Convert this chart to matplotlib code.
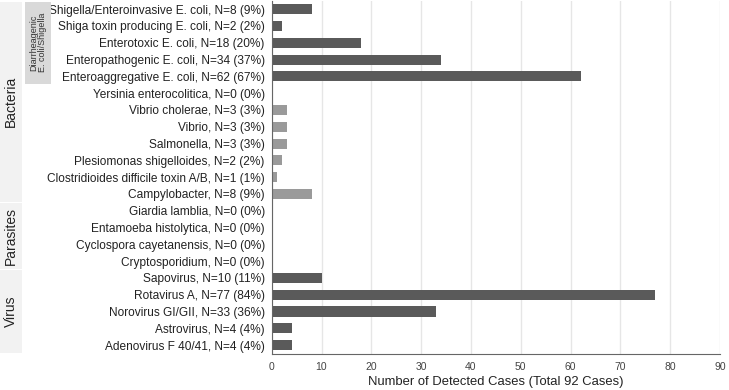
import matplotlib
matplotlib.use("Agg")
import matplotlib.pyplot as plt
from matplotlib.patches import Rectangle
from matplotlib.transforms import blended_transform_factory

plt.rcParams['font.family'] = ['Liberation Sans', 'DejaVu Sans']

# data, top to bottom
labels = [
    "Shigella/Enteroinvasive E. coli, N=8 (9%)",
    "Shiga toxin producing E. coli, N=2 (2%)",
    "Enterotoxic E. coli, N=18 (20%)",
    "Enteropathogenic E. coli, N=34 (37%)",
    "Enteroaggregative E. coli, N=62 (67%)",
    "Yersinia enterocolitica, N=0 (0%)",
    "Vibrio cholerae, N=3 (3%)",
    "Vibrio, N=3 (3%)",
    "Salmonella, N=3 (3%)",
    "Plesiomonas shigelloides, N=2 (2%)",
    "Clostridioides difficile toxin A/B, N=1 (1%)",
    "Campylobacter, N=8 (9%)",
    "Giardia lamblia, N=0 (0%)",
    "Entamoeba histolytica, N=0 (0%)",
    "Cyclospora cayetanensis, N=0 (0%)",
    "Cryptosporidium, N=0 (0%)",
    "Sapovirus, N=10 (11%)",
    "Rotavirus A, N=77 (84%)",
    "Norovirus GI/GII, N=33 (36%)",
    "Astrovirus, N=4 (4%)",
    "Adenovirus F 40/41, N=4 (4%)",
]
counts = [8, 2, 18, 34, 62, 0, 3, 3, 3, 2, 1, 8, 0, 0, 0, 0, 10, 77, 33, 4, 4]
shade = ["dark"] * 5 + ["light"] * 7 + ["light"] * 4 + ["dark"] * 5

groups = ["Bacteria", "Parasites", "Virus"]
group_rows = [(0, 11), (12, 15), (16, 20)]
sub_group = "Diarrheagenic\nE. coli/Shigella"
sub_rows = (0, 4)

colors = {"dark": "#5a5a5a", "light": "#9a9a9a"}

W, H = 729, 390
fig = plt.figure(figsize=(W / 100, H / 100), dpi=100)
ax = fig.add_axes([271.7 / W, 1 - 353.5 / H, (720 - 271.7) / W, (353.5 - 0.8) / H])

y = list(range(len(labels)))
ax.barh(y, counts, height=0.6, color=[colors[s] for s in shade])

ax.set_xlim(0, 90)
ax.set_ylim(len(labels) - 0.5, -0.5)
ax.set_xticks(range(0, 91, 10))
ax.set_yticks(y)
ax.set_yticklabels(labels, fontsize=8.6, color="#222222")
ax.tick_params(axis="x", labelsize=7.5, colors="#444444", length=0, pad=6)
ax.tick_params(axis="y", length=0, pad=5)
ax.grid(axis="x", color="#e6e6e6", linewidth=1)
ax.set_axisbelow(True)
for s in ["top", "right"]:
    ax.spines[s].set_visible(False)
ax.spines["left"].set_color("#666666")
ax.spines["bottom"].set_color("#666666")
ax.set_xlabel("Number of Detected Cases (Total 92 Cases)", fontsize=9.4, color="#222222", labelpad=3)

# strips on the left
tr = blended_transform_factory(fig.transFigure, ax.transData)
for name, (r0, r1) in zip(groups, group_rows):
    ax.add_patch(Rectangle((0, r0 - 0.45), 22 / W, r1 - r0 + 0.9, transform=tr,
                           facecolor="#f2f2f2", edgecolor="none", clip_on=False))
    ax.text(11 / W, (r0 + r1) / 2, name, transform=tr, rotation=90,
            ha="center", va="center", fontsize=10, color="#222222")

ax.add_patch(Rectangle((25 / W, sub_rows[0] - 0.4), 26 / W, sub_rows[1] - sub_rows[0] + 0.85,
                       transform=tr, facecolor="#d9d9d9", edgecolor="none", clip_on=False))
ax.text(38 / W, (sub_rows[0] + sub_rows[1]) / 2, sub_group, transform=tr, rotation=90,
        ha="center", va="center", fontsize=6.5, color="#333333", linespacing=1.0)

fig.savefig("out.png", dpi=100)
